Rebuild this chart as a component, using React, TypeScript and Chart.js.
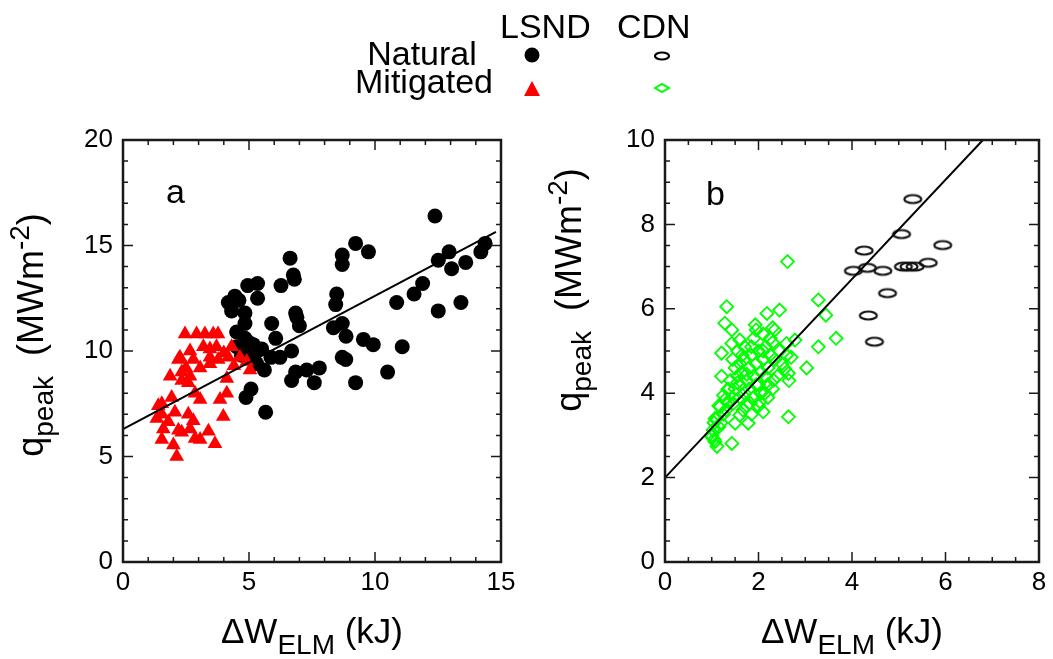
import React, { useEffect, useRef } from "react";
import { Chart, registerables } from "chart.js";

Chart.register(...registerables);

const FONT = '"Liberation Sans", Arial, Helvetica, sans-serif';

// ---------- Panel a : LSND ----------
const lsndNaturalX = [12.38, 9.23, 9.74, 6.63, 8.7, 8.7, 14.37, 14.2, 12.94, 12.51, 13.6, 13.04, 6.76, 6.8, 11.89, 11.55, 10.86, 13.41, 12.51, 6.27, 5.34, 4.95, 5.34, 4.44, 4.18, 4.31, 4.84, 4.84, 4.51, 4.84, 5.17, 5.5, 5.04, 5.9, 6.06, 5.87, 6.23, 6.69, 6.85, 7.0, 8.48, 8.44, 8.7, 8.35, 8.85, 9.54, 9.93, 11.08, 8.7, 8.84, 10.5, 9.23, 5.61, 6.69, 6.85, 7.29, 7.79, 7.59, 5.08, 4.88, 5.66, 5.3, 4.51, 4.7, 5.2, 5.0, 4.6, 6.9];
const lsndNaturalY = [16.4, 15.1, 14.7, 14.4, 14.55, 14.1, 15.1, 14.7, 14.7, 14.3, 14.2, 13.9, 13.6, 13.4, 13.2, 12.7, 12.3, 12.3, 11.9, 13.1, 13.2, 13.1, 12.5, 12.6, 12.3, 11.9, 11.8, 11.3, 10.9, 10.6, 10.3, 10.1, 9.9, 11.3, 10.6, 9.7, 9.7, 10.0, 11.8, 11.2, 12.7, 12.2, 11.3, 11.1, 10.7, 10.55, 10.3, 10.2, 9.7, 9.6, 9.0, 8.5, 9.1, 8.6, 9.0, 9.1, 9.2, 8.5, 8.2, 7.8, 7.1, 9.4, 10.2, 9.8, 9.6, 10.4, 12.4, 11.6];

const lsndMitigatedX = [2.46, 2.92, 3.25, 3.58, 3.77, 4.31, 2.66, 2.2, 2.79, 3.45, 3.78, 4.18, 4.64, 4.91, 5.04, 1.87, 2.33, 2.66, 3.06, 3.45, 4.12, 2.59, 2.86, 3.85, 4.12, 3.98, 1.54, 1.93, 1.54, 2.06, 2.59, 2.79, 1.8, 1.6, 2.2, 2.66, 1.54, 2.0, 2.13, 2.86, 3.06, 3.39, 3.65, 2.33, 1.34, 1.4, 3.06, 2.33, 3.45, 3.19, 3.71, 2.26, 4.4, 4.0, 2.5];
const lsndMitigatedY = [10.8, 10.8, 10.8, 10.8, 10.8, 10.2, 10.0, 9.6, 9.6, 9.7, 9.6, 9.7, 9.7, 9.5, 9.1, 8.8, 9.0, 8.8, 9.2, 9.4, 8.7, 8.5, 8.0, 7.7, 8.0, 6.9, 7.5, 7.8, 7.0, 7.1, 7.0, 6.7, 6.65, 6.3, 6.25, 6.3, 5.8, 5.55, 5.0, 5.85, 5.8, 6.2, 5.6, 6.15, 6.8, 7.4, 7.7, 8.6, 10.1, 10.2, 10.2, 9.7, 9.3, 9.9, 9.2];

const fitAX = [0, 14.8];
const fitAY = [6.3, 15.65];

const xTicksA = [0, 5, 10, 15];
const yTicksA = [0, 5, 10, 15, 20];

// ---------- Panel b : CDN ----------
const cdnNaturalX = [5.3, 5.06, 4.26, 5.94, 4.03, 4.33, 4.66, 5.1, 5.35, 5.63, 4.76, 4.35, 4.48, 5.22];
const cdnNaturalY = [8.6, 7.77, 7.38, 7.51, 6.9, 6.97, 6.9, 7.0, 7.0, 7.09, 6.37, 5.84, 5.22, 7.0];

const cdnMitigatedX = [2.62, 3.28, 3.44, 3.66, 3.28, 3.03, 2.64, 1.32, 1.28, 1.43, 1.6, 1.43, 1.21, 1.21, 1.18, 1.07, 1.03, 1.07, 1.11, 1.43, 1.0, 1.5, 1.6, 1.78, 2.1, 1.93, 2.18, 2.45, 2.35, 2.6, 2.6, 2.64, 2.56, 2.78, 2.32, 2.14, 2.03, 1.82, 1.67, 1.46, 1.28, 1.35,
  1.5, 1.55, 1.6, 1.65, 1.7, 1.75, 1.8, 1.85, 1.9, 1.95, 2.0, 2.05, 2.1, 2.15, 2.2, 2.25, 2.3, 2.0, 1.8, 1.7, 1.6, 1.5, 1.45, 1.4, 1.35, 1.3, 1.25, 1.2, 1.15, 1.1, 1.6, 1.75, 1.9, 2.05, 2.2, 2.4, 2.5, 2.45, 2.35, 2.25, 2.1, 1.95, 1.9, 1.7, 1.55, 1.45, 1.65, 1.85, 2.15, 2.3, 2.0, 1.85, 2.2, 2.65, 2.7, 2.3, 2.1, 1.95, 1.75, 1.55, 1.35, 1.25, 1.15, 1.05, 1.0, 1.05];
const cdnMitigatedY = [7.12, 6.21, 5.85, 5.3, 5.1, 4.6, 3.44, 6.05, 5.66, 5.5, 5.26, 5.18, 4.95, 4.4, 3.68, 3.4, 3.13, 2.85, 2.74, 2.81, 2.97, 3.29, 3.48, 3.29, 3.56, 5.62, 5.89, 5.97, 5.5, 5.18, 4.9, 4.47, 4.58, 5.26, 4.31, 4.0, 3.8, 3.76, 3.6, 3.76, 3.84, 4.08,
  4.6, 4.4, 4.7, 4.5, 4.8, 4.3, 4.6, 4.9, 4.4, 4.7, 5.0, 4.5, 4.8, 5.1, 4.6, 4.9, 5.2, 4.2, 4.1, 4.0, 4.2, 4.1, 3.9, 4.3, 3.8, 3.6, 3.5, 3.3, 3.2, 3.4, 3.9, 3.7, 3.9, 4.0, 4.2, 4.4, 4.7, 5.0, 4.8, 5.3, 5.4, 5.5, 5.3, 5.1, 5.0, 4.8, 4.9, 5.1, 4.4, 4.1, 3.7, 3.5, 3.9, 4.3, 4.85, 5.55, 5.0, 4.2, 4.45, 4.25, 4.1, 3.95, 3.7, 3.3, 3.0, 2.9];

const fitBX = [0, 6.8];
const fitBY = [2.0, 10.0];

const xTicksB = [0, 2, 4, 6, 8];
const yTicksB = [0, 2, 4, 6, 8, 10];

// ---------- Legend ----------
const legendColumns = ["LSND", "CDN"];
const legendRows = ["Natural", "Mitigated"];

const W = 1053;
const H = 659;

const zip = (xs: number[], ys: number[]) => xs.map((x, i) => ({ x, y: ys[i] }));

function makeEllipse(rx: number, ry: number, lw: number): HTMLCanvasElement {
  const c = document.createElement("canvas");
  c.width = Math.ceil(rx * 2 + lw * 2 + 2);
  c.height = Math.ceil(ry * 2 + lw * 2 + 2);
  const g = c.getContext("2d")!;
  g.strokeStyle = "#111";
  g.lineWidth = lw;
  g.beginPath();
  g.ellipse(c.width / 2, c.height / 2, rx, ry, 0, 0, Math.PI * 2);
  g.stroke();
  return c;
}

type Seg = { t: string; size: number; dy: number };

function drawRich(ctx: CanvasRenderingContext2D, segs: Seg[], cx: number, cy: number, rotate: boolean) {
  const ws = segs.map((s) => {
    ctx.font = `${s.size}px ${FONT}`;
    return ctx.measureText(s.t).width;
  });
  const total = ws.reduce((a, b) => a + b, 0);
  ctx.save();
  ctx.translate(cx, cy);
  if (rotate) ctx.rotate(-Math.PI / 2);
  ctx.fillStyle = "#000";
  ctx.textAlign = "left";
  ctx.textBaseline = "alphabetic";
  let x = -total / 2;
  segs.forEach((s, i) => {
    ctx.font = `${s.size}px ${FONT}`;
    ctx.fillText(s.t, x, s.dy);
    x += ws[i];
  });
  ctx.restore();
}

const framePlugin = {
  id: "frame",
  afterDatasetsDraw(chart: any, _args: any, opts: any) {
    const { ctx, chartArea } = chart;
    const { left, right, top, bottom } = chartArea;
    const xs = chart.scales.x;
    const ys = chart.scales.y;
    ctx.save();
    ctx.strokeStyle = "#1a1a1a";
    ctx.lineWidth = 1.5;
    ctx.beginPath();
    const nx = Math.round((xs.max - xs.min) / opts.xMinor);
    for (let i = 0; i <= nx; i++) {
      const v = xs.min + i * opts.xMinor;
      const px = xs.getPixelForValue(v);
      const major = Math.abs(v / opts.xMajor - Math.round(v / opts.xMajor)) < 1e-6;
      const len = major ? 10 : 5;
      ctx.moveTo(px, bottom);
      ctx.lineTo(px, bottom - len);
      ctx.moveTo(px, top);
      ctx.lineTo(px, top + len);
    }
    const ny = Math.round((ys.max - ys.min) / opts.yMinor);
    for (let i = 0; i <= ny; i++) {
      const v = ys.min + i * opts.yMinor;
      const py = ys.getPixelForValue(v);
      const major = Math.abs(v / opts.yMajor - Math.round(v / opts.yMajor)) < 1e-6;
      const len = major ? 10 : 5;
      ctx.moveTo(left, py);
      ctx.lineTo(left + len, py);
      ctx.moveTo(right, py);
      ctx.lineTo(right - len, py);
    }
    ctx.stroke();
    ctx.lineWidth = 2.5;
    ctx.strokeRect(left, top, right - left, bottom - top);
    ctx.restore();
  },
};

function yTitle(ctx: CanvasRenderingContext2D, bx: number, cy: number) {
  drawRich(
    ctx,
    [
      { t: "q", size: 36, dy: 0 },
      { t: "peak", size: 28, dy: 10 },
      { t: "  (MWm", size: 36, dy: 0 },
      { t: "-2", size: 28, dy: -14 },
      { t: ")", size: 36, dy: 0 },
    ],
    bx,
    cy,
    true
  );
}

function xTitle(ctx: CanvasRenderingContext2D, cx: number, by: number) {
  drawRich(
    ctx,
    [
      { t: "\u0394W", size: 35, dy: 0 },
      { t: "ELM", size: 28, dy: 11 },
      { t: " (kJ)", size: 35, dy: 0 },
    ],
    cx,
    by,
    false
  );
}

function drawLegend(ctx: CanvasRenderingContext2D) {
  ctx.save();
  ctx.fillStyle = "#000";
  ctx.textBaseline = "alphabetic";
  ctx.font = `34px ${FONT}`;
  ctx.textAlign = "left";
  ctx.fillText(legendColumns[0], 500, 38);
  ctx.fillText(legendColumns[1], 617, 38);
  ctx.textAlign = "center";
  ctx.fillText(legendRows[0], 422, 65);
  ctx.fillText(legendRows[1], 424, 93);
  // black dot
  ctx.beginPath();
  ctx.arc(532, 55, 7.5, 0, Math.PI * 2);
  ctx.fill();
  // red triangle
  ctx.fillStyle = "#ff0000";
  ctx.beginPath();
  ctx.moveTo(532, 81);
  ctx.lineTo(540, 96);
  ctx.lineTo(524, 96);
  ctx.closePath();
  ctx.fill();
  // black ellipse
  ctx.strokeStyle = "#000";
  ctx.lineWidth = 2.2;
  ctx.beginPath();
  ctx.ellipse(662, 56, 7, 3.5, 0, 0, Math.PI * 2);
  ctx.stroke();
  // green diamond
  ctx.strokeStyle = "#00ff00";
  ctx.lineWidth = 2;
  ctx.beginPath();
  ctx.moveTo(655, 88);
  ctx.lineTo(662, 84);
  ctx.lineTo(669, 88);
  ctx.lineTo(662, 92);
  ctx.closePath();
  ctx.stroke();
  ctx.restore();
}

function baseOptions(
  pad: { left: number; right: number },
  yWidth: number,
  xMin: number,
  xMax: number,
  yMin: number,
  yMax: number,
  xTicks: number[],
  yTicks: number[],
  frame: any
) {
  const tickFont = { family: FONT, size: 26 };
  return {
    responsive: false,
    animation: false as const,
    devicePixelRatio: 1,
    events: [],
    layout: { padding: { left: pad.left, right: pad.right, top: 140, bottom: 0 } },
    plugins: {
      legend: { display: false },
      tooltip: { enabled: false },
      frame,
    },
    scales: {
      x: {
        type: "linear" as const,
        min: xMin,
        max: xMax,
        grid: { display: false, drawTicks: false },
        border: { display: false },
        ticks: { font: tickFont, color: "#000", padding: 5, maxRotation: 0 },
        afterBuildTicks: (s: any) => {
          s.ticks = xTicks.map((v) => ({ value: v }));
        },
        afterFit: (s: any) => {
          s.height = H - 562;
        },
      },
      y: {
        type: "linear" as const,
        min: yMin,
        max: yMax,
        grid: { display: false, drawTicks: false },
        border: { display: false },
        ticks: { font: tickFont, color: "#000", padding: 10 },
        afterBuildTicks: (s: any) => {
          s.ticks = yTicks.map((v) => ({ value: v }));
        },
        afterFit: (s: any) => {
          s.width = yWidth;
        },
      },
    },
  };
}

export default function App() {
  const refA = useRef<HTMLCanvasElement>(null);
  const refB = useRef<HTMLCanvasElement>(null);

  useEffect(() => {
    const ellipse = makeEllipse(8.5, 4, 2.2);

    const decoA = {
      id: "decoA",
      afterDraw(chart: any) {
        const ctx = chart.ctx as CanvasRenderingContext2D;
        const { left, right } = chart.chartArea;
        yTitle(ctx, 43, 335);
        xTitle(ctx, (left + right) / 2, 643);
        ctx.save();
        ctx.font = `34px ${FONT}`;
        ctx.fillStyle = "#000";
        ctx.textAlign = "left";
        ctx.fillText("a", 166, 203);
        ctx.restore();
        drawLegend(ctx);
      },
    };

    const decoB = {
      id: "decoB",
      afterDraw(chart: any) {
        const ctx = chart.ctx as CanvasRenderingContext2D;
        const { left, right } = chart.chartArea;
        yTitle(ctx, 581, 290);
        xTitle(ctx, (left + right) / 2, 643);
        ctx.save();
        ctx.font = `34px ${FONT}`;
        ctx.fillStyle = "#000";
        ctx.textAlign = "left";
        ctx.fillText("b", 706, 205);
        ctx.restore();
      },
    };

    const chartA = new Chart(refA.current!, {
      type: "scatter",
      data: {
        datasets: [
          {
            label: "fit",
            data: zip(fitAX, fitAY),
            showLine: true,
            borderColor: "#000",
            borderWidth: 2,
            pointRadius: 0,
            fill: false,
          },
          {
            label: "LSND Mitigated",
            data: zip(lsndMitigatedX, lsndMitigatedY),
            pointStyle: "triangle",
            pointRadius: 8.5,
            backgroundColor: "#ff0000",
            borderColor: "#ff0000",
            borderWidth: 0,
          },
          {
            label: "LSND Natural",
            data: zip(lsndNaturalX, lsndNaturalY),
            pointStyle: "circle",
            pointRadius: 7.5,
            backgroundColor: "#000",
            borderColor: "#000",
            borderWidth: 0,
          },
        ],
      },
      options: baseOptions({ left: 0, right: W - 501 }, 123, 0, 15, 0, 20, xTicksA, yTicksA, {
        xMinor: 1,
        xMajor: 5,
        yMinor: 1,
        yMajor: 5,
      }) as any,
      plugins: [framePlugin, decoA],
    });

    const chartB = new Chart(refB.current!, {
      type: "scatter",
      data: {
        datasets: [
          {
            label: "fit",
            data: zip(fitBX, fitBY),
            showLine: true,
            borderColor: "#000",
            borderWidth: 2,
            pointRadius: 0,
            fill: false,
          },
          {
            label: "CDN Mitigated",
            data: zip(cdnMitigatedX, cdnMitigatedY),
            pointStyle: "rectRot",
            pointRadius: 6.5,
            backgroundColor: "rgba(0,0,0,0)",
            borderColor: "#00ff00",
            borderWidth: 1.8,
          },
          {
            label: "CDN Natural",
            data: zip(cdnNaturalX, cdnNaturalY),
            pointStyle: ellipse as any,
            pointRadius: 8,
            backgroundColor: "rgba(0,0,0,0)",
            borderColor: "#000",
          },
        ],
      },
      options: baseOptions({ left: 665 - 100, right: W - 1039 }, 100, 0, 8, 0, 10, xTicksB, yTicksB, {
        xMinor: 0.5,
        xMajor: 2,
        yMinor: 0.5,
        yMajor: 2,
      }) as any,
      plugins: [framePlugin, decoB],
    });

    return () => {
      chartA.destroy();
      chartB.destroy();
    };
  }, []);

  const cs: React.CSSProperties = { position: "absolute", left: 0, top: 0, width: W, height: H };
  return (
    <div style={{ position: "absolute", left: 0, top: 0, width: W, height: H, background: "#fff" }}>
      <canvas ref={refA} width={W} height={H} style={cs} />
      <canvas ref={refB} width={W} height={H} style={cs} />
    </div>
  );
}
